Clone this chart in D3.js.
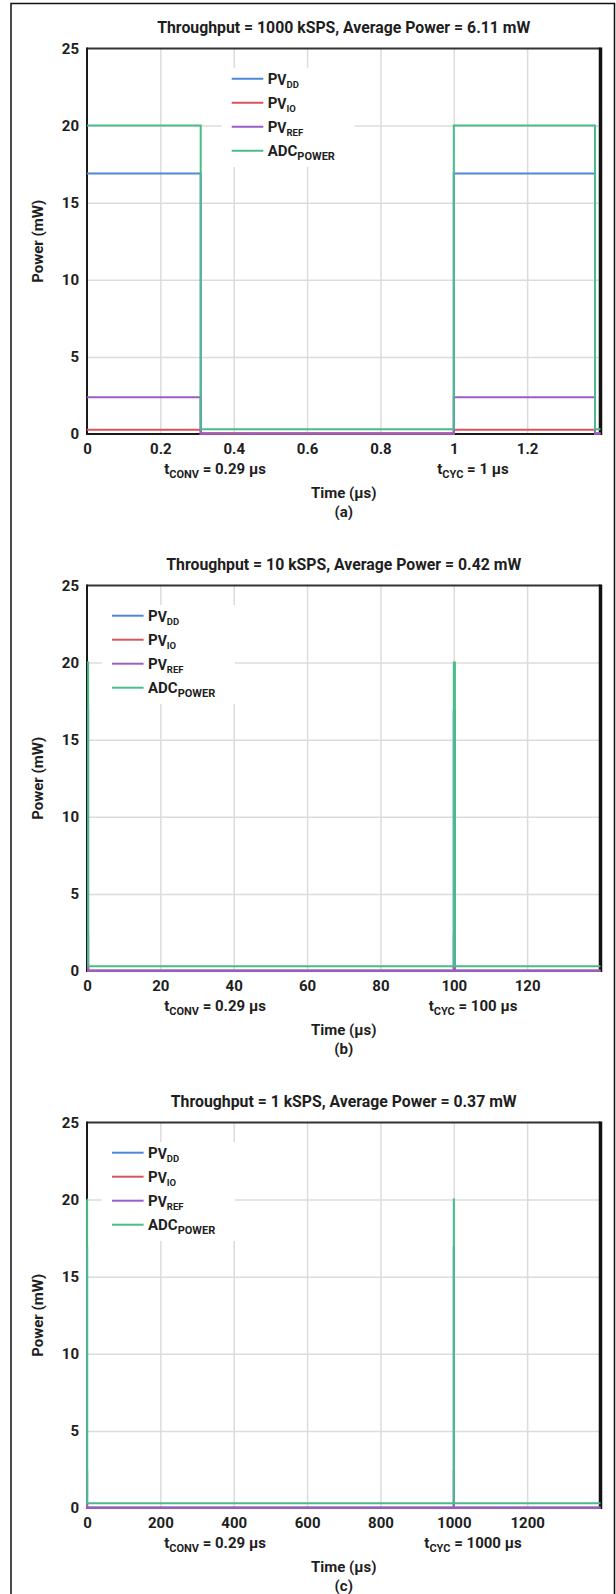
<!DOCTYPE html>
<html>
<head>
<meta charset="utf-8">
<script src="https://cdn.jsdelivr.net/npm/d3@7"></script>
<style>
  body { margin: 0; background: #fff; }
  svg { display: block; }
  text { font-family: Roboto, "Noto Sans", sans-serif; font-weight: 700; fill: #1e1e1e; font-size: 15px; }
  .title { font-size: 15.8px; }
</style>
</head>
<body>
<svg id="chart" width="616" height="1594"></svg>
<script>
// series (legend order = draw order, ADC on top)
const seriesMain = ['P', 'P', 'P', 'ADC'];
const seriesSub1 = ['V', 'V', 'V', 'POWER'];
const seriesSub2 = ['DD', 'IO', 'REF', ''];
const seriesColors = ['#4f87d9', '#d9545c', '#9c5cc9', '#4cbb8a'];

// step values: each value holds from its time to the next time
const pvdd = [16.9, 0.03, 16.9, 0.03, 0.03];
const pvio = [0.27, 0.05, 0.27, 0.05, 0.05];
const pvref = [2.38, 0.02, 2.38, 0.02, 0.02];
const adcPower = [20, 0.3, 20, 0.3, 0.3];
const pvddLong = [16.9, 0.03, 16.9, 0.03, 0.03];
const pvioLong = [0.27, 0.02, 0.27, 0.02, 0.02];
const pvrefLong = [2.38, 0.02, 2.38, 0.02, 0.02];
const adcPowerLong = [20, 0.3, 20, 0.3, 0.3];

// (a) 1000 kSPS
const timeA = [0, 0.31, 1, 1.385, 1.4];
const xTicksA = [0, 0.2, 0.4, 0.6, 0.8, 1, 1.2];
// (b) 10 kSPS
const timeB = [0, 0.31, 100, 100.31, 140];
const xTicksB = [0, 20, 40, 60, 80, 100, 120];
// (c) 1 kSPS
const timeC = [0, 0.31, 1000, 1000.31, 1400];
const xTicksC = [0, 200, 400, 600, 800, 1000, 1200];

const yTicks = [0, 5, 10, 15, 20, 25];
const titles = [
  'Throughput = 1000 kSPS, Average Power = 6.11 mW',
  'Throughput = 10 kSPS, Average Power = 0.42 mW',
  'Throughput = 1 kSPS, Average Power = 0.37 mW'
];
const tCycTexts = [' = 1 µs', ' = 100 µs', ' = 1000 µs'];
const panelLetters = ['(a)', '(b)', '(c)'];

const panels = [
  { time: timeA, xMax: 1.4, xTicks: xTicksA, values: [pvdd, pvio, pvref, adcPower], legendLeft: 231.7 },
  { time: timeB, xMax: 140, xTicks: xTicksB, values: [pvddLong, pvioLong, pvrefLong, adcPowerLong], legendLeft: 112 },
  { time: timeC, xMax: 1400, xTicks: xTicksC, values: [pvddLong, pvioLong, pvrefLong, adcPowerLong], legendLeft: 112 }
];

const plotLeft = 87;
const plotRight = 600.5;
const plotHeight = 385.5;
const firstTop = 48.5;
const panelStep = 537;
const gridColor = '#dcdcdc';

const svg = d3.select('#chart');

// outer frame
svg.append('rect')
  .attr('x', 11).attr('y', 3.5)
  .attr('width', 603.5).attr('height', 1620)
  .attr('fill', 'none').attr('stroke', '#111').attr('stroke-width', 1.5);

function drawPanel(p, i) {
  const top = firstTop + i * panelStep;
  const bottom = top + plotHeight;
  const x = d3.scaleLinear().domain([0, p.xMax]).range([plotLeft, plotRight]);
  const y = d3.scaleLinear().domain([0, 25]).range([bottom, top]);
  const g = svg.append('g');

  // grid
  g.append('g')
    .attr('transform', `translate(0,${bottom})`)
    .call(d3.axisBottom(x).tickValues(p.xTicks.filter(d => d > 0)).tickSize(-plotHeight).tickFormat(''))
    .call(g => g.select('.domain').remove())
    .call(g => g.selectAll('.tick line').attr('stroke', gridColor).attr('stroke-width', 1.5));
  g.append('g')
    .attr('transform', `translate(${plotLeft},0)`)
    .call(d3.axisLeft(y).tickValues(yTicks.filter(d => d > 0 && d < 25)).tickSize(-(plotRight - plotLeft)).tickFormat(''))
    .call(g => g.select('.domain').remove())
    .call(g => g.selectAll('.tick line').attr('stroke', gridColor).attr('stroke-width', 1.5));

  // legend background
  const legendTop = top + 30.2;
  const rowGap = 24;
  g.append('rect')
    .attr('x', p.legendLeft - 10)
    .attr('y', legendTop - 10.7)
    .attr('width', 133)
    .attr('height', rowGap * 3 + 27)
    .attr('fill', '#fff');

  // plot border
  g.append('line').attr('x1', plotLeft).attr('x2', plotRight).attr('y1', top).attr('y2', top)
    .attr('stroke', '#333').attr('stroke-width', 2);
  g.append('line').attr('x1', plotLeft).attr('x2', plotLeft).attr('y1', top - 1).attr('y2', bottom + 1)
    .attr('stroke', '#1a1a1a').attr('stroke-width', 2);
  g.append('line').attr('x1', plotLeft - 1).attr('x2', plotRight).attr('y1', bottom).attr('y2', bottom)
    .attr('stroke', '#1a1a1a').attr('stroke-width', 2);
  g.append('line').attr('x1', plotRight).attr('x2', plotRight).attr('y1', top - 1).attr('y2', bottom + 1)
    .attr('stroke', '#111').attr('stroke-width', 3.5);

  // series
  const line = d3.line()
    .x(d => x(d[0]))
    .y(d => y(d[1]))
    .curve(d3.curveStepAfter);
  p.values.forEach((vals, k) => {
    g.append('path')
      .datum(p.time.map((t, j) => [t, vals[j]]))
      .attr('fill', 'none')
      .attr('stroke', seriesColors[k])
      .attr('stroke-width', 2)
      .attr('d', line);
  });

  // legend
  seriesMain.forEach((name, k) => {
    const ly = legendTop + k * rowGap;
    g.append('line')
      .attr('x1', p.legendLeft).attr('x2', p.legendLeft + 31.6)
      .attr('y1', ly).attr('y2', ly)
      .attr('stroke', seriesColors[k]).attr('stroke-width', 2);
    const t = g.append('text').attr('x', p.legendLeft + 36).attr('y', ly + 5);
    t.append('tspan').text(name);
    if (seriesSub2[k]) {
      t.append('tspan').attr('font-size', '14px').attr('dy', 1.5).text(seriesSub1[k]);
      t.append('tspan').attr('font-size', '9.5px').attr('dy', 3).text(seriesSub2[k]);
    } else {
      t.append('tspan').attr('font-size', '11px').attr('dy', 4).text(seriesSub1[k]);
    }
  });

  // axis labels
  g.append('g')
    .attr('transform', `translate(0,${bottom})`)
    .call(d3.axisBottom(x).tickValues(p.xTicks).tickFormat(d => String(d)).tickSize(0).tickPadding(9.5))
    .call(g => g.attr('font-size', null).attr('font-family', null))
    .call(g => g.select('.domain').remove());
  g.append('g')
    .attr('transform', `translate(${plotLeft},0)`)
    .call(d3.axisLeft(y).tickValues(yTicks).tickFormat(d => String(d)).tickSize(0).tickPadding(8))
    .call(g => g.attr('font-size', null).attr('font-family', null))
    .call(g => g.select('.domain').remove());

  // title
  g.append('text')
    .attr('class', 'title')
    .attr('x', (plotLeft + plotRight) / 2).attr('y', top - 15.5)
    .attr('text-anchor', 'middle')
    .text(titles[i]);

  // tCONV / tCYC notes
  const conv = g.append('text').attr('x', 215).attr('y', bottom + 40).attr('text-anchor', 'middle');
  conv.append('tspan').text('t');
  conv.append('tspan').attr('font-size', '11px').attr('dy', 4).text('CONV');
  conv.append('tspan').attr('dy', -4).text(' = 0.29 µs');
  const cyc = g.append('text').attr('x', 473).attr('y', bottom + 40).attr('text-anchor', 'middle');
  cyc.append('tspan').text('t');
  cyc.append('tspan').attr('font-size', '11px').attr('dy', 4).text('CYC');
  cyc.append('tspan').attr('dy', -4).text(tCycTexts[i]);

  g.append('text')
    .attr('x', (plotLeft + plotRight) / 2).attr('y', bottom + 64)
    .attr('text-anchor', 'middle')
    .text('Time (µs)');
  g.append('text')
    .attr('x', (plotLeft + plotRight) / 2).attr('y', bottom + 82.5)
    .attr('text-anchor', 'middle')
    .text(panelLetters[i]);

  g.append('text')
    .attr('transform', `translate(38,${(top + bottom) / 2}) rotate(-90)`)
    .attr('text-anchor', 'middle')
    .attr('dy', '0.35em')
    .text('Power (mW)');
}

panels.forEach(drawPanel);
</script>
</body>
</html>
